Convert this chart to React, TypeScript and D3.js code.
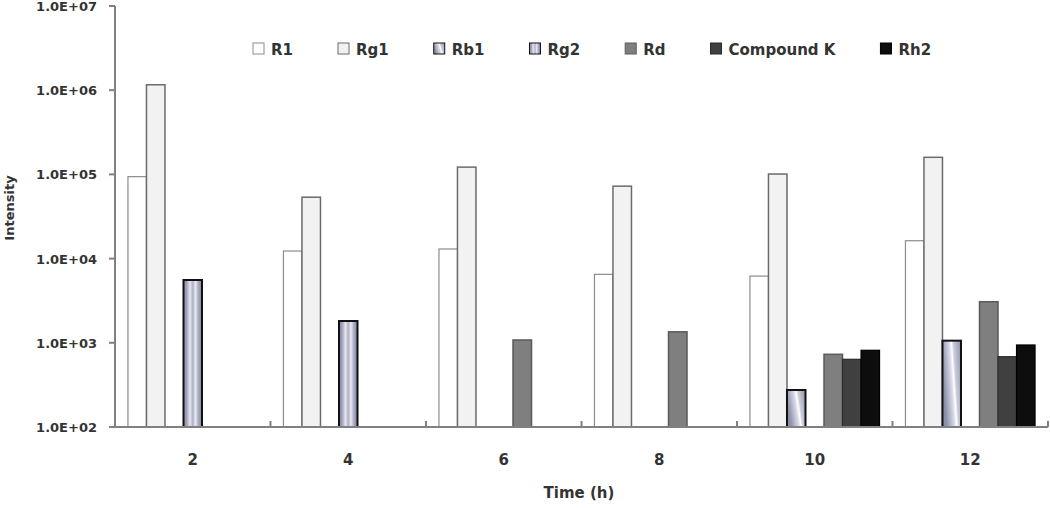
import React, { useEffect, useRef } from "react";
import * as d3 from "d3";

const categories = ["2", "4", "6", "8", "10", "12"];
const seriesNames = ["R1", "Rg1", "Rb1", "Rg2", "Rd", "Compound K", "Rh2"];
const R1 = [94000, 12300, 13000, 6500, 6200, 16300];
const Rg1 = [1160000, 53600, 122000, 72500, 101000, 159600];
const Rb1 = [null, null, null, null, 275, 1060];
const Rg2 = [5570, 1815, null, null, null, null];
const Rd = [null, null, 1080, 1350, 730, 3075];
const CompoundK = [null, null, null, null, 637, 684];
const Rh2 = [null, null, null, null, 815, 942];
const yTicks = [1e2, 1e3, 1e4, 1e5, 1e6, 1e7];
const yTickLabels = ["1.0E+02", "1.0E+03", "1.0E+04", "1.0E+05", "1.0E+06", "1.0E+07"];

const seriesValues: (number | null)[][] = [R1, Rg1, Rb1, Rg2, Rd, CompoundK, Rh2];

const fills = ["#ffffff", "#f2f2f2", "url(#gradRb1)", "url(#gradRg2)", "#7f7f7f", "#404040", "#0d0d0d"];
const strokes = ["#8c8c8c", "#6b6b6b", "#111111", "#111111", "#5a5a5a", "#2a2a2a", "#000000"];
const strokeW = [1.2, 1.5, 2, 2, 1.5, 1.2, 1.2];

const FONT = "'DejaVu Sans', sans-serif";
const TXT = "#333333";

export default function App() {
  const ref = useRef<SVGSVGElement | null>(null);

  useEffect(() => {
    const svg = d3.select(ref.current);
    svg.selectAll("*").remove();

    const left = 115, right = 1048, top = 6, bottom = 427;
    const defs = svg.append("defs");
    const g1 = defs.append("linearGradient").attr("id", "gradRb1")
      .attr("x1", "0").attr("y1", "0.3").attr("x2", "1").attr("y2", "0");
    [["0", "#8a8fa8"], ["0.4", "#d8dae6"], ["0.52", "#ffffff"], ["0.62", "#c9ccda"], ["1", "#8e93ab"]]
      .forEach(([o, c]) => g1.append("stop").attr("offset", o).attr("stop-color", c));
    const g2 = defs.append("linearGradient").attr("id", "gradRg2")
      .attr("x1", "0").attr("y1", "0").attr("x2", "1").attr("y2", "0");
    [["0", "#7d82a0"], ["0.2", "#a9acc2"], ["0.35", "#e6e7ef"], ["0.5", "#aeb1c6"], ["0.65", "#e8e9f0"], ["0.8", "#a9acc2"], ["1", "#7d82a0"]]
      .forEach(([o, c]) => g2.append("stop").attr("offset", o).attr("stop-color", c));

    const x = d3.scaleBand<string>().domain(categories).range([left, right]).paddingInner(0).paddingOuter(0);
    const xs = d3.scaleBand<string>().domain(seriesNames).range([0, x.bandwidth()]).paddingInner(0).paddingOuter(0.7);
    const y = d3.scaleLog().domain([1e2, 1e7]).range([bottom, top]);

    // bars
    seriesNames.forEach((name, si) => {
      const vals = seriesValues[si];
      svg.append("g").selectAll("rect")
        .data(categories.map((c, i) => ({ c, v: vals[i] })).filter(d => d.v != null))
        .join("rect")
        .attr("x", d => (x(d.c) as number) + (xs(name) as number))
        .attr("y", d => y(d.v as number))
        .attr("width", xs.bandwidth())
        .attr("height", d => bottom - y(d.v as number))
        .attr("fill", fills[si])
        .attr("stroke", strokes[si])
        .attr("stroke-width", strokeW[si]);
    });

    const axisColor = "#808080";
    // y axis
    svg.append("line").attr("x1", left).attr("x2", left).attr("y1", top).attr("y2", bottom)
      .attr("stroke", axisColor).attr("stroke-width", 2);
    yTicks.forEach((t, i) => {
      svg.append("line").attr("x1", left - 6).attr("x2", left).attr("y1", y(t)).attr("y2", y(t))
        .attr("stroke", axisColor).attr("stroke-width", 2);
      svg.append("text").attr("x", 97).attr("y", y(t) + 5).attr("text-anchor", "end")
        .attr("font-family", FONT).attr("font-weight", "bold").attr("font-size", 13)
        .attr("fill", TXT).text(yTickLabels[i]);
    });
    // x axis
    svg.append("line").attr("x1", left - 6).attr("x2", right).attr("y1", bottom).attr("y2", bottom)
      .attr("stroke", axisColor).attr("stroke-width", 2);
    categories.forEach((c, i) => {
      const bx = (x(c) as number) + x.bandwidth();
      svg.append("line").attr("x1", bx).attr("x2", bx).attr("y1", bottom).attr("y2", bottom - 6)
        .attr("stroke", axisColor).attr("stroke-width", 2);
      svg.append("text").attr("x", (x(c) as number) + x.bandwidth() / 2).attr("y", 465)
        .attr("text-anchor", "middle").attr("font-family", FONT).attr("font-weight", "bold")
        .attr("font-size", 15).attr("fill", TXT).text(c);
    });

    // axis titles
    svg.append("text").attr("x", 579).attr("y", 498).attr("text-anchor", "middle")
      .attr("font-family", FONT).attr("font-weight", "bold").attr("font-size", 15)
      .attr("fill", TXT).text("Time (h)");
    svg.append("text").attr("transform", "translate(14,208) rotate(-90)").attr("text-anchor", "middle")
      .attr("font-family", FONT).attr("font-weight", "bold").attr("font-size", 13)
      .attr("fill", TXT).text("Intensity");

    // legend
    let lx = 253;
    seriesNames.forEach((name, si) => {
      svg.append("rect").attr("x", lx).attr("y", 43).attr("width", 11).attr("height", 11)
        .attr("fill", fills[si]).attr("stroke", strokes[si]).attr("stroke-width", 1);
      const t = svg.append("text").attr("x", lx + 18).attr("y", 55)
        .attr("font-family", FONT).attr("font-weight", "bold").attr("font-size", 15)
        .attr("fill", TXT).text(name);
      const w = (t.node() as SVGTextElement).getComputedTextLength();
      lx = lx + 18 + w + 45;
    });
  }, []);

  return (
    <svg ref={ref} width={1050} height={508} style={{ position: "absolute", left: 0, top: 0, background: "#fff" }} />
  );
}
